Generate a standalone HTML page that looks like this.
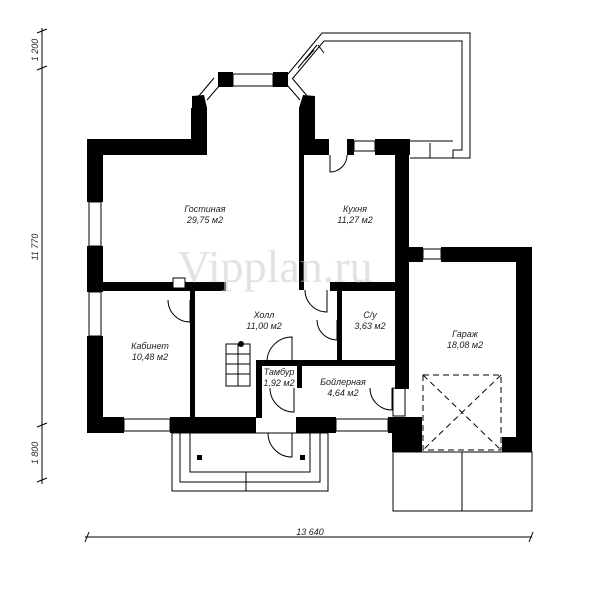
<!DOCTYPE html>
<html><head><meta charset="utf-8"><style>
html,body{margin:0;padding:0;background:#fff;width:600px;height:597px;overflow:hidden}
svg{display:block}
text{font-family:"Liberation Sans",sans-serif;font-style:italic;fill:#222}
</style></head><body>
<svg width="600" height="597" viewBox="0 0 600 597" xmlns="http://www.w3.org/2000/svg">
<g stroke="#000" stroke-width="1" fill="none">
<!-- dimension lines -->
<line x1="42" y1="28" x2="42" y2="484"/>
<line x1="37" y1="33" x2="47" y2="29"/><line x1="37" y1="70" x2="47" y2="66"/>
<line x1="37" y1="427" x2="47" y2="423"/><line x1="37" y1="482" x2="47" y2="478"/>
<line x1="85" y1="537" x2="532" y2="537"/>
<line x1="85" y1="542" x2="89" y2="532"/><line x1="529" y1="542" x2="533" y2="532"/>
<!-- terrace -->
<path d="M288 74 L322 33 L470 33 L470 158 L453 158"/>
<path d="M293 78 L324 41 L462 41 L462 150 L453 150 L453 158"/>
<path d="M305 60 L314 50 M298 68 L317 45 M318 45 L324 53"/>
<line x1="410" y1="141" x2="453" y2="141"/>
<line x1="410" y1="158" x2="453" y2="158"/>
<line x1="430" y1="158" x2="430" y2="143"/>
<!-- porch -->
<rect x="172" y="433" width="156" height="58"/>
<path d="M180 433 V482 H320 V433"/>
<path d="M190 433 V472 H310 V433"/>
<line x1="246" y1="491" x2="246" y2="472"/>
<!-- garage pad -->
<rect x="393" y="452" width="139" height="59"/>
<line x1="462" y1="452" x2="462" y2="511"/>
<rect x="423" y="375" width="78" height="75" stroke-dasharray="6,4"/>
<path d="M423 375 L501 450 M501 375 L423 450" stroke-dasharray="6,4"/>
<!-- windows lines -->
<rect x="124" y="141" width="46" height="12"/>
<rect x="89" y="202" width="12" height="44"/>
<rect x="89" y="292" width="12" height="44"/>
<rect x="124" y="419" width="46" height="12"/>
<rect x="336" y="419" width="52" height="12"/>
<rect x="233" y="74" width="40" height="12"/>
<rect x="194" y="108" width="12" height="32"/>
<rect x="302" y="108" width="12" height="32"/>
<path d="M207 100 L220 85 M198 97 L214 78"/>
<path d="M287 85 L300 100 M292 78 L308 97"/>
<rect x="354" y="141" width="21" height="10"/>
<rect x="423" y="249" width="18" height="10"/>
<!-- stairs -->
<rect x="226" y="344" width="24" height="42"/>
<path d="M226 354 H250 M226 364 H250 M226 374 H250 M238 344 V386"/>
<!-- doors -->
<path d="M330 155 V172 A17 17 0 0 0 347 155"/>
<path d="M168 300 A22 22 0 0 0 190 322 V300"/>
<path d="M305 290 A22 22 0 0 0 327 312 V290"/>
<path d="M317 320 A20 20 0 0 0 337 340 V320"/>
<path d="M292 337 A25 25 0 0 0 267 362 H292 Z"/>
<path d="M270 388 A24 24 0 0 0 294 412 V388"/>
<path d="M268 433 A24 24 0 0 0 292 457 V433"/>
<path d="M370 388 A22 22 0 0 0 392 410 V388"/>
<rect x="393" y="388" width="12" height="28"/>
</g>
<g fill="#000">
<!-- outer walls -->
<rect x="87" y="139" width="120" height="16"/>
<rect x="87" y="139" width="16" height="63"/>
<rect x="87" y="246" width="16" height="46"/>
<rect x="87" y="336" width="16" height="97"/>
<rect x="87" y="417" width="37" height="16"/>
<rect x="170" y="417" width="86" height="16"/>
<rect x="296" y="417" width="40" height="16"/>
<rect x="388" y="417" width="20" height="16"/>
<rect x="392" y="417" width="30" height="35"/>
<rect x="124" y="139" width="0" height="0"/>
<rect x="191" y="108" width="16" height="47"/>
<rect x="299" y="108" width="16" height="47"/>
<polygon points="192,96 204,95 207,108 192,108"/>
<polygon points="299,108 315,108 315,96 303,95"/>
<rect x="218" y="72" width="15" height="15"/>
<rect x="273" y="72" width="15" height="15"/>
<rect x="299" y="139" width="30" height="16"/>
<rect x="347" y="139" width="7" height="16"/>
<rect x="375" y="139" width="35" height="16"/>
<rect x="395" y="139" width="14" height="250"/>
<rect x="408" y="247" width="15" height="15"/>
<rect x="441" y="247" width="91" height="15"/>
<rect x="516" y="247" width="16" height="205"/>
<rect x="502" y="437" width="30" height="15"/>
<!-- interior walls -->
<rect x="103" y="282" width="123" height="9"/>
<rect x="299" y="155" width="5" height="135"/>
<rect x="330" y="282" width="65" height="9"/>
<rect x="337" y="291" width="5" height="72"/>
<rect x="256" y="360" width="139" height="6"/>
<rect x="256" y="360" width="6" height="58"/>
<rect x="297" y="360" width="5" height="28"/>
<rect x="190" y="291" width="5" height="126"/>
<circle cx="241" cy="344" r="3"/>
</g>
<rect x="173" y="278" width="12" height="10" fill="#fff" stroke="#000"/>
<rect x="197" y="455" width="5" height="5" fill="#000"/>
<rect x="300" y="455" width="5" height="5" fill="#000"/>
<g font-size="9">
<text x="205" y="212" text-anchor="middle">Гостиная</text>
<text x="205" y="223" text-anchor="middle">29,75 м2</text>
<text x="355" y="212" text-anchor="middle">Кухня</text>
<text x="355" y="223" text-anchor="middle">11,27 м2</text>
<text x="264" y="318" text-anchor="middle">Холл</text>
<text x="264" y="329" text-anchor="middle">11,00 м2</text>
<text x="370" y="318" text-anchor="middle">С/у</text>
<text x="370" y="329" text-anchor="middle">3,63 м2</text>
<text x="150" y="349" text-anchor="middle">Кабинет</text>
<text x="150" y="360" text-anchor="middle">10,48 м2</text>
<text x="465" y="337" text-anchor="middle">Гараж</text>
<text x="465" y="348" text-anchor="middle">18,08 м2</text>
<text x="279" y="375" text-anchor="middle">Тамбур</text>
<text x="279" y="386" text-anchor="middle">1,92 м2</text>
<text x="343" y="385" text-anchor="middle">Бойлерная</text>
<text x="343" y="396" text-anchor="middle">4,64 м2</text>
<text x="310" y="535" text-anchor="middle">13 640</text>
<text transform="translate(38,50) rotate(-90)" text-anchor="middle">1 200</text>
<text transform="translate(38,247) rotate(-90)" text-anchor="middle">11 770</text>
<text transform="translate(38,453) rotate(-90)" text-anchor="middle">1 800</text>
</g>
<text x="275" y="282" text-anchor="middle" font-size="46" style="font-family:'Liberation Serif',serif;font-style:normal;fill:#ccc;opacity:0.55">Vipplan.ru</text>
</svg>
</body></html>
